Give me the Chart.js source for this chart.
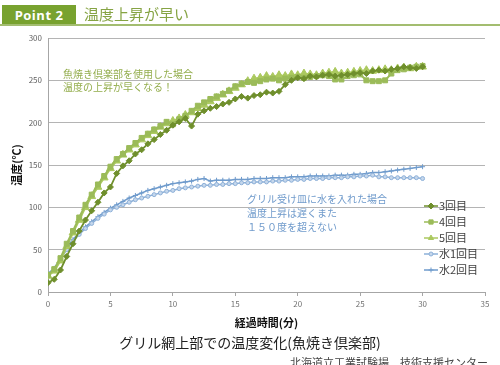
<!DOCTYPE html>
<html lang="ja">
<head>
<meta charset="utf-8">
<script src="https://cdn.jsdelivr.net/npm/chart.js@4.4.1/dist/chart.umd.min.js"></script>
<style>
  html, body { margin: 0; padding: 0; background: #fff; }
  #wrap { position: relative; width: 500px; height: 365px; overflow: hidden; font-family: "Noto Sans CJK JP", sans-serif; }
  #chart { position: absolute; left: 0; top: 0; }
  .tag { position: absolute; left: 2px; top: 5px; width: 74px; height: 20px; background: #78a22f; color: #fff;
         font: bold 13px "Open Sans", sans-serif; line-height: 20px; text-align: center; letter-spacing: 0.5px; }
  .head { position: absolute; left: 84px; top: 3px; font-size: 15px; line-height: 22px; color: #86a444; }
  .rule { position: absolute; left: 0; top: 24px; width: 500px; height: 2px; background: #a3bd70; }
  .note { position: absolute; font-size: 10px; line-height: 13px; white-space: pre; }
  .green { left: 63px; top: 67px; color: #93ad4c; }
  .blue { left: 247px; top: 192px; color: #6f9acb; line-height: 14px; }
  .title { position: absolute; left: 0; width: 500px; top: 332px; text-align: center; font-size: 14px; color: #222; }
  .src { position: absolute; right: 12px; top: 354px; font-size: 11px; color: #444; }
</style>
</head>
<body>
<div id="wrap">
  <canvas id="chart" width="500" height="365"></canvas>
  <div class="tag">Point 2</div>
  <div class="head">温度上昇が早い</div>
  <div class="rule"></div>
  <div class="note green">魚焼き倶楽部を使用した場合
温度の上昇が早くなる！</div>
  <div class="note blue">グリル受け皿に水を入れた場合
温度上昇は遅くまた
１５０度を超えない</div>
  <div class="title">グリル網上部での温度変化(魚焼き倶楽部)</div>
  <div class="src">北海道立工業試験場　技術支援センター</div>
</div>
<script>
"use strict";

// elapsed time (min), sampled every 30 s
const TIMES = [0, 0.5, 1, 1.5, 2, 2.5, 3, 3.5, 4, 4.5, 5, 5.5, 6, 6.5, 7, 7.5, 8, 8.5, 9, 9.5,
  10, 10.5, 11, 11.5, 12, 12.5, 13, 13.5, 14, 14.5, 15, 15.5, 16, 16.5, 17, 17.5, 18, 18.5, 19, 19.5,
  20, 20.5, 21, 21.5, 22, 22.5, 23, 23.5, 24, 24.5, 25, 25.5, 26, 26.5, 27, 27.5, 28, 28.5, 29, 29.5, 30];

const RUN3 = [11, 15, 26, 42, 57, 72, 85, 96, 106, 117, 124, 140, 149, 155, 163, 168, 175, 180, 186, 191,
  197, 201, 205, 196, 210, 214, 217, 219, 222, 224, 228, 231, 229, 232, 233, 236, 235, 237, 245, 250,
  253, 252, 255, 254, 256, 257, 255, 256, 257, 258, 259, 258, 261, 262, 261, 263, 264, 266, 265, 264, 266];
const RUN4 = [20, 27, 40, 57, 72, 88, 103, 115, 127, 137, 148, 157, 163, 170, 176, 182, 187, 192, 196, 201,
  198, 204, 208, 214, 220, 224, 228, 231, 234, 238, 243, 246, 248, 247, 249, 251, 252, 250, 252, 253,
  254, 253, 254, 255, 256, 255, 251, 251, 255, 256, 257, 250, 249, 249, 250, 258, 262, 263, 265, 266, 267];
const RUN5 = [19, 25, 37, 54, 70, 85, 100, 113, 124, 135, 146, 155, 162, 168, 174, 180, 185, 190, 195, 199,
  202, 205, 209, 212, 217, 221, 225, 229, 233, 237, 241, 245, 249, 252, 253, 255, 254, 256, 255, 257,
  256, 258, 257, 256, 258, 259, 260, 258, 259, 260, 261, 262, 261, 262, 263, 262, 264, 265, 264, 266, 266];
const WATER1 = [20, 26, 38, 50, 60, 68, 75, 81, 87, 92, 97, 100, 103, 106, 109, 111, 113, 115, 117, 119,
  120, 122, 123, 124, 125, 126, 126, 127, 127, 128, 128, 129, 129, 130, 130, 130, 131, 131, 132, 132,
  133, 133, 134, 134, 134, 135, 135, 135, 136, 136, 137, 137, 138, 136, 136, 135, 135, 135, 135, 135, 134];
const WATER2 = [22, 28, 40, 52, 62, 70, 77, 83, 89, 94, 99, 103, 107, 111, 114, 117, 120, 122, 124, 126,
  128, 129, 130, 131, 133, 134, 131, 132, 132, 132, 133, 133, 133, 134, 134, 134, 135, 135, 135, 136,
  136, 136, 137, 137, 137, 137, 138, 138, 138, 139, 139, 140, 141, 141, 142, 143, 144, 145, 146, 147, 148];

const LABELS = ["3回目", "4回目", "5回目", "水1回目", "水2回目"];
const X_TICKS = [0, 5, 10, 15, 20, 25, 30, 35];

const JP = '"Noto Sans CJK JP", sans-serif';
const pts = (vals) => TIMES.map((t, i) => ({ x: t, y: vals[i] }));

const series = [
  { label: LABELS[0], data: RUN3, color: "#6f8f2c", fill: "#6f8f2c", style: "rectRot", r: 3, w: 1.8 },
  { label: LABELS[1], data: RUN4, color: "#9bbb59", fill: "#9bbb59", style: "rect", r: 3.5, w: 2 },
  { label: LABELS[2], data: RUN5, color: "#abc95f", fill: "#abc95f", style: "triangle", r: 4.5, w: 2 },
  { label: LABELS[3], data: WATER1, color: "#8db0d8", fill: "#c5d7ec", style: "circle", r: 2, w: 1.5 },
  { label: LABELS[4], data: WATER2, color: "#6f9bcc", fill: "#6f9bcc", style: "cross", r: 2.5, w: 1.5 },
];

// legend drawn inside the plot, lower right
const insideLegend = {
  id: "insideLegend",
  afterDatasetsDraw(chart) {
    const ctx = chart.ctx;
    const x0 = 424, y0 = 206, step = 16;
    chart.data.datasets.forEach((ds, i) => {
      const y = y0 + i * step;
      ctx.save();
      ctx.strokeStyle = ds.borderColor;
      ctx.lineWidth = 1.5;
      ctx.beginPath(); ctx.moveTo(x0, y); ctx.lineTo(x0 + 14, y); ctx.stroke();
      ctx.fillStyle = ds.pointBackgroundColor;
      ctx.strokeStyle = ds.pointBorderColor;
      ctx.lineWidth = 1;
      Chart.helpers.drawPoint(ctx, { pointStyle: ds.pointStyle, radius: Math.min(ds.pointRadius, 3), borderWidth: 1, rotation: 0 }, x0 + 7, y);
      ctx.fillStyle = "#404040";
      ctx.font = "11px " + JP;
      ctx.textBaseline = "middle";
      ctx.fillText(ds.label, x0 + 15, y);
      ctx.restore();
    });
  },
};

new Chart(document.getElementById("chart"), {
  type: "line",
  data: {
    datasets: series.map(s => ({
      label: s.label,
      data: pts(s.data),
      borderColor: s.color,
      backgroundColor: s.fill,
      pointBackgroundColor: s.fill,
      pointBorderColor: s.color,
      pointStyle: s.style,
      pointRadius: s.r,
      pointBorderWidth: 1,
      borderWidth: s.w,
      tension: 0,
    })),
  },
  options: {
    responsive: false,
    animation: false,
    layout: { padding: { top: 38, right: 15, bottom: 36, left: 0 } },
    plugins: { legend: { display: false }, tooltip: { enabled: false } },
    scales: {
      x: {
        type: "linear", min: 0, max: 35,
        afterBuildTicks: (s) => { s.ticks = X_TICKS.map(v => ({ value: v })); },
        afterFit: (s) => { s.height = 37; },
        grid: { drawOnChartArea: false, tickLength: 4, color: "#a6a6a6" },
        border: { color: "#a6a6a6" },
        ticks: { color: "#707070", font: { size: 8, family: JP }, padding: 3 },
        title: { display: true, text: "経過時間(分)", color: "#111", font: { size: 11, weight: "bold", family: JP }, padding: { top: 2, bottom: 0 } },
      },
      y: {
        min: 0, max: 300,
        ticks: { stepSize: 50, color: "#606060", font: { size: 8, family: JP }, padding: 6 },
        afterFit: (s) => { s.width = 48; },
        grid: { color: "#b4b4b4", drawTicks: false },
        border: { color: "#a6a6a6" },
        title: { display: true, text: "温度(℃)", color: "#111", font: { size: 11, weight: "bold", family: JP }, padding: { top: 10, bottom: 0 } },
      },
    },
  },
  plugins: [insideLegend],
});
</script>
</body>
</html>
